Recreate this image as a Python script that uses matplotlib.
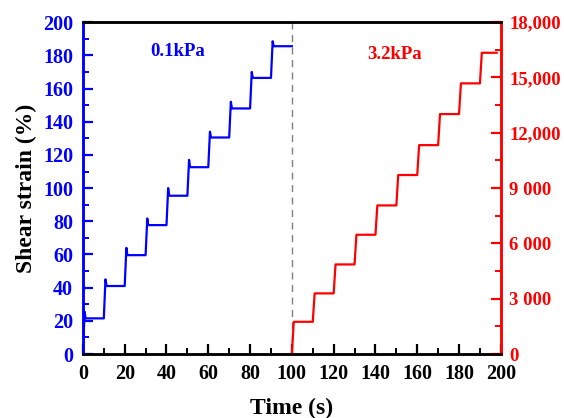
import matplotlib.pyplot as plt
import numpy as np
from matplotlib.ticker import FixedLocator, FixedFormatter, MultipleLocator

# low pressure (0.1 kPa) creep steps, left axis
blue_t = [0, 10, 20, 30, 40, 50, 60, 70, 80, 90]
blue_peak = [25.5, 45, 64, 81.7, 100, 117, 134, 152, 170, 188.5]
blue_plateau = [21.5, 41, 59.6, 77.7, 95.4, 112.6, 130.5, 148, 166.4, 185.5]
blue_end = 100

# high pressure (3.2 kPa) steps, right axis
red_t = [100, 110, 120, 130, 140, 150, 160, 170, 180, 190]
red_plateau = [1750, 3290, 4860, 6470, 8060, 9710, 11330, 13015, 14680, 16340]
red_end = 198

right_ticks = [0, 3000, 6000, 9000, 12000, 15000, 18000]
right_labels = ["0", "3 000", "6 000", "9 000", "12,000", "15,000", "18,000"]

plt.rcParams['font.family'] = ['Liberation Serif', 'DejaVu Serif']
plt.rcParams['font.weight'] = 'bold'

# build the step traces
bx, by = [0], [0]
for i, t in enumerate(blue_t):
    nxt = blue_t[i + 1] if i + 1 < len(blue_t) else blue_end
    bx += [t + 0.8, t + 1.3, nxt]
    by += [blue_peak[i], blue_plateau[i], blue_plateau[i]]

rx, ry = [red_t[0]], [0]
for i, t in enumerate(red_t):
    nxt = red_t[i + 1] if i + 1 < len(red_t) else red_end
    rx += [t + 0.9, nxt]
    ry += [red_plateau[i], red_plateau[i]]

fig = plt.figure(figsize=(5.64, 4.18), dpi=100)
ax = fig.add_axes([0.147, 0.153, 0.741, 0.794])
ax2 = ax.twinx()

ax.plot(bx, by, color='blue', lw=1.6)
ax2.plot(rx, ry, color='red', lw=1.6)
ax.axvline(100, color='grey', ls=(0, (5, 4)), lw=1.0)

ax.set_xlim(0, 200)
ax.set_ylim(0, 200)
ax2.set_ylim(0, 18000)

ax.xaxis.set_major_locator(MultipleLocator(20))
ax.xaxis.set_minor_locator(MultipleLocator(10))
ax.yaxis.set_major_locator(MultipleLocator(20))
ax.yaxis.set_minor_locator(MultipleLocator(10))
ax2.yaxis.set_major_locator(FixedLocator(right_ticks))
ax2.yaxis.set_major_formatter(FixedFormatter(right_labels))
ax2.yaxis.set_minor_locator(MultipleLocator(1500))

for a in (ax, ax2):
    for s in a.spines.values():
        s.set_linewidth(1.8)
    a.spines['top'].set_color('black')
    a.spines['bottom'].set_color('black')
    a.spines['left'].set_color('blue')
    a.spines['right'].set_color('red')

ax.tick_params(axis='both', which='major', direction='in', length=7, width=1.6, labelsize=14.5, pad=7)
ax.tick_params(axis='both', which='minor', direction='in', length=4, width=1.4)
ax.tick_params(axis='y', which='both', colors='blue')
ax.tick_params(axis='x', which='both', colors='black')
ax2.tick_params(axis='y', which='major', direction='in', length=7, width=1.6, labelsize=13.5, colors='red', pad=6)
ax2.tick_params(axis='y', which='minor', direction='in', length=4, width=1.4, colors='red')

for lab in ax.get_xticklabels() + ax.get_yticklabels() + ax2.get_yticklabels():
    lab.set_fontweight('bold')

ax.set_xlabel('Time (s)', fontsize=17, fontweight='bold', labelpad=10)
ax.set_ylabel('Shear strain (%)', fontsize=17, fontweight='bold', labelpad=4)

ax.text(45.5, 182.5, '0.1kPa', color='blue', fontsize=13.5, fontweight='bold', ha='center', va='center')
ax2.text(149, 16250, '3.2kPa', color='red', fontsize=13.5, fontweight='bold', ha='center', va='center')

fig.savefig('out.png', dpi=100)
